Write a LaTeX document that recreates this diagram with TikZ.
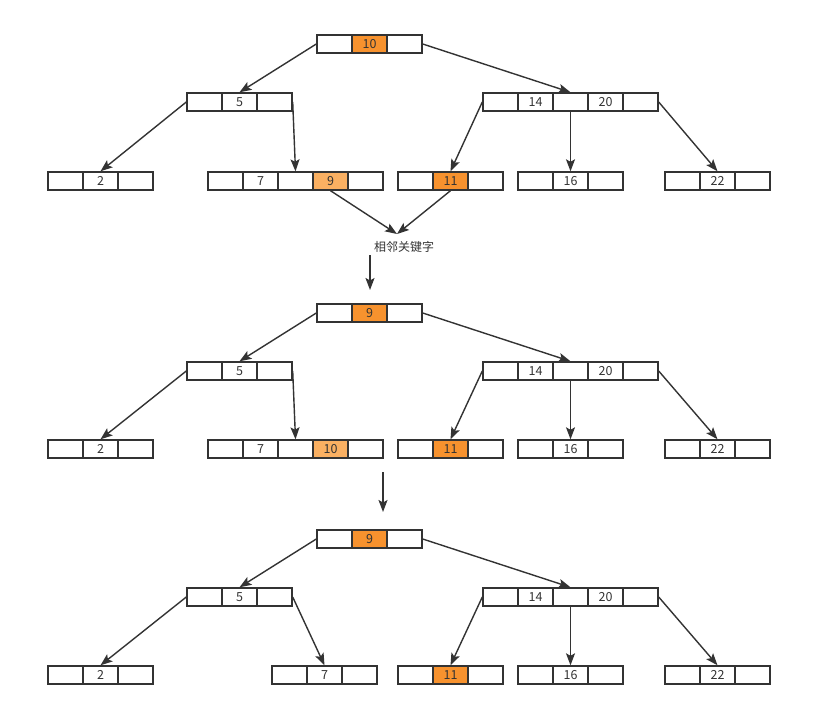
\documentclass[tikz,border=0pt]{standalone}
\usepackage{fontspec}
\setmainfont{Noto Sans CJK SC}
\usetikzlibrary{calc}
\usetikzlibrary{arrows.meta}
\definecolor{keyhot}{RGB}{247,146,46}
\definecolor{keywarm}{RGB}{250,176,98}
\definecolor{ink}{RGB}{51,51,51}
\tikzset{
  cell/.style={draw=ink, line width=1.4pt, minimum width=35pt, minimum height=18pt,
    inner sep=0pt, text=ink, font=\fontsize{12.5}{12.5}\selectfont},
  plain/.style={},
  hot/.style={fill=keyhot},
  warm/.style={fill=keywarm},
  link/.style={draw=ink, line width=1.4pt, -{Stealth[length=12pt,width=9pt,inset=2.5pt]}}
}
% one b-tree node: name, left x, centre y, keys
\newcommand{\keynode}[4]{%
  \foreach \k/\s [count=\i] in {#4}
    \node[cell,\s] (#1-\i) at ({#2+\i*35-17.5},#3) {\k};
}

\begin{document}
\begin{tikzpicture}[x=1pt, y=-1pt]
            \useasboundingbox (0,0) rectangle (835,714);

            % before
            \keynode{t1root}{317}{44}{/plain,10/hot,/plain}
            \keynode{t1left}{187}{102}{/plain,5/plain,/plain}
            \keynode{t1right}{483}{102}{/plain,14/plain,/plain,20/plain,/plain}
            \keynode{t1k2}{48}{181}{/plain,2/plain,/plain}
            \keynode{t1k7}{208}{181}{/plain,7/plain,/plain,9/warm,/plain}
            \keynode{t1k11}{398}{181}{/plain,11/hot,/plain}
            \keynode{t1k16}{518}{181}{/plain,16/plain,/plain}
            \keynode{t1k22}{665}{181}{/plain,22/plain,/plain}

            \draw[link] (t1root-1.west) -- (t1left-2.north);
            \draw[link] (t1root-3.east) -- (t1right-3.north);
            \draw[link] (t1left-1.west) -- (t1k2-2.north);
            \draw[link] (t1left-3.east) -- (t1k7-3.north);
            \draw[link] (t1right-1.west) -- (t1k11-2.north);
            \draw[link] (t1right-3.south) -- (t1k16-2.north);
            \draw[link] (t1right-5.east) -- (t1k22-2.north);

            \node[text=ink, font=\fontsize{12}{12}\selectfont] (adj) at (404,247) {相邻关键字};
            \coordinate (meet) at (397,234);
            \draw[link] (t1k7-4.south) -- (meet);
            \draw[link] (t1k11-2.south) -- (meet);

            \coordinate (step1a) at (370,255);
            \coordinate (step1b) at (370,290);
            \draw[link] (step1a) -- (step1b);

            % swapped
            \keynode{t2root}{317}{313}{/plain,9/hot,/plain}
            \keynode{t2left}{187}{371}{/plain,5/plain,/plain}
            \keynode{t2right}{483}{371}{/plain,14/plain,/plain,20/plain,/plain}
            \keynode{t2k2}{48}{449}{/plain,2/plain,/plain}
            \keynode{t2k7}{208}{449}{/plain,7/plain,/plain,10/warm,/plain}
            \keynode{t2k11}{398}{449}{/plain,11/hot,/plain}
            \keynode{t2k16}{518}{449}{/plain,16/plain,/plain}
            \keynode{t2k22}{665}{449}{/plain,22/plain,/plain}

            \draw[link] (t2root-1.west) -- (t2left-2.north);
            \draw[link] (t2root-3.east) -- (t2right-3.north);
            \draw[link] (t2left-1.west) -- (t2k2-2.north);
            \draw[link] (t2left-3.east) -- (t2k7-3.north);
            \draw[link] (t2right-1.west) -- (t2k11-2.north);
            \draw[link] (t2right-3.south) -- (t2k16-2.north);
            \draw[link] (t2right-5.east) -- (t2k22-2.north);

            \coordinate (step2a) at (383,472);
            \coordinate (step2b) at (383,512);
            \draw[link] (step2a) -- (step2b);

            % after
            \keynode{t3root}{317}{539}{/plain,9/hot,/plain}
            \keynode{t3left}{187}{597}{/plain,5/plain,/plain}
            \keynode{t3right}{483}{597}{/plain,14/plain,/plain,20/plain,/plain}
            \keynode{t3k2}{48}{675}{/plain,2/plain,/plain}
            \keynode{t3k7}{272}{675}{/plain,7/plain,/plain}
            \keynode{t3k11}{398}{675}{/plain,11/hot,/plain}
            \keynode{t3k16}{518}{675}{/plain,16/plain,/plain}
            \keynode{t3k22}{665}{675}{/plain,22/plain,/plain}

            \draw[link] (t3root-1.west) -- (t3left-2.north);
            \draw[link] (t3root-3.east) -- (t3right-3.north);
            \draw[link] (t3left-1.west) -- (t3k2-2.north);
            \draw[link] (t3left-3.east) -- (t3k7-2.north);
            \draw[link] (t3right-1.west) -- (t3k11-2.north);
            \draw[link] (t3right-3.south) -- (t3k16-2.north);
            \draw[link] (t3right-5.east) -- (t3k22-2.north);
\end{tikzpicture}
\end{document}
